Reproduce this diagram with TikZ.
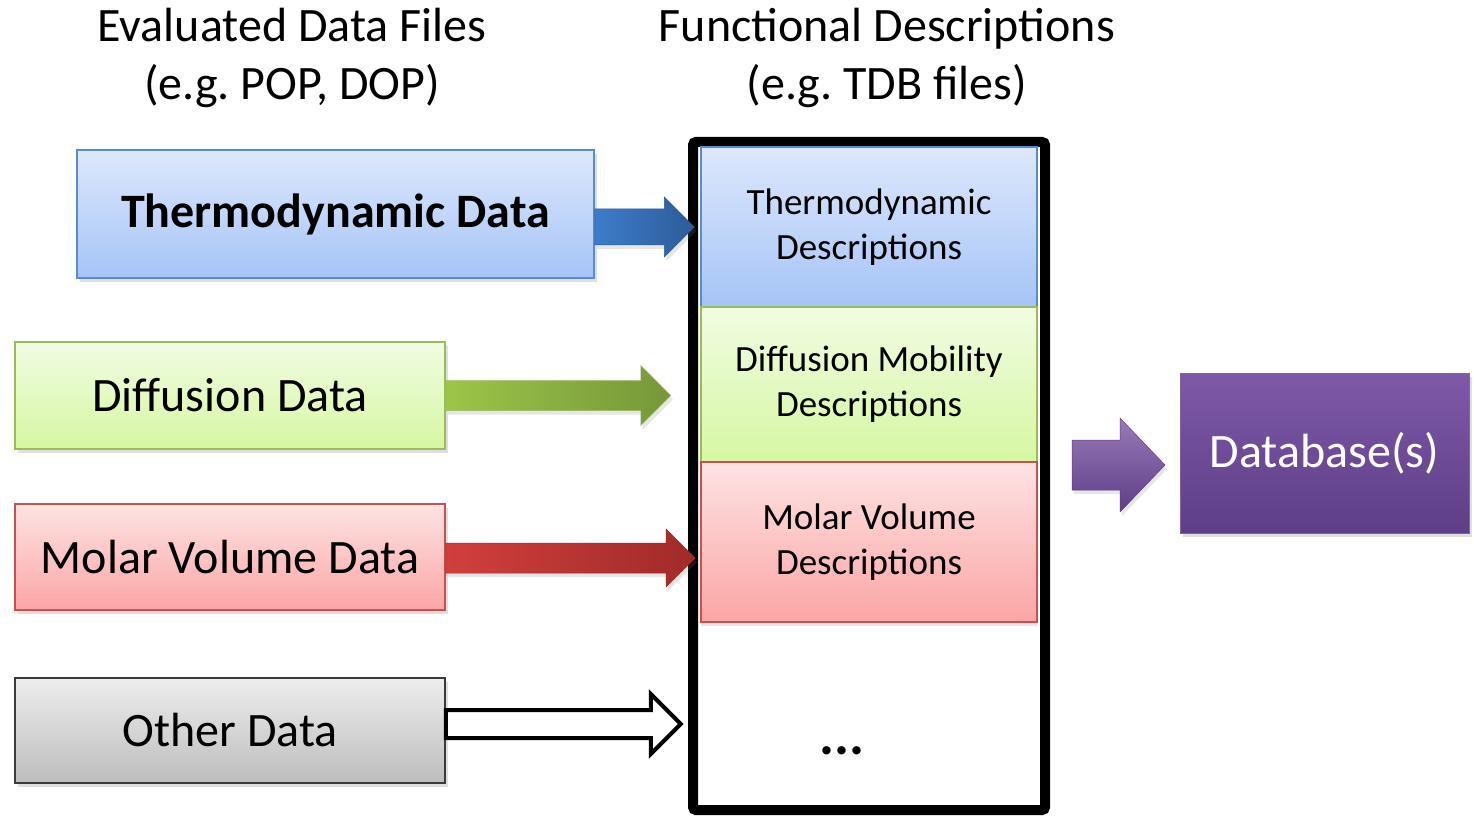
\documentclass[tikz,border=0pt]{standalone}
\usepackage{fontspec}
\setmainfont{Carlito}
\frenchspacing
\usetikzlibrary{calc,shadows}
\definecolor{bluetop}{HTML}{DDE8FC}
\definecolor{bluebot}{HTML}{A5C4F7}
\definecolor{blueedge}{HTML}{5A8AD0}
\definecolor{greentop}{HTML}{F1FCE2}
\definecolor{greenbot}{HTML}{D6F7A2}
\definecolor{greenedge}{HTML}{9BBB59}
\definecolor{redtop}{HTML}{FDE3E3}
\definecolor{redbot}{HTML}{FCA5A5}
\definecolor{rededge}{HTML}{C9504D}
\definecolor{greytop}{HTML}{EDEDED}
\definecolor{greybot}{HTML}{BDBDBD}
\definecolor{greyedge}{HTML}{3A3A3A}
\definecolor{purptop}{HTML}{7E59A8}
\definecolor{purpbot}{HTML}{5E3E86}
\definecolor{barL}{HTML}{3D7CCB}
\definecolor{barR}{HTML}{2D5C99}
\definecolor{garL}{HTML}{9CC548}
\definecolor{garR}{HTML}{76973A}
\definecolor{rarL}{HTML}{D13F3C}
\definecolor{rarR}{HTML}{A02B29}
\newcommand\blockarrow[6]{%
  \path[#6] ($(#1)+(0,#3)$) -- ($(#2)+(-#5,#3)$) -- ($(#2)+(-#5,#4)$) -- (#2)
    -- ($(#2)+(-#5,-#4)$) -- ($(#2)+(-#5,-#3)$) -- ($(#1)+(0,-#3)$) -- cycle;}
\begin{document}
\begin{tikzpicture}[x=1pt,y=-1pt,
  title/.style={align=center,font=\fontsize{48}{58}\selectfont},
  srcbox/.style={draw,line width=1.5pt,inner sep=0pt,font=\fontsize{48}{56}\selectfont,
     drop shadow={shadow xshift=3pt,shadow yshift=-4pt,opacity=0.25}},
  descbox/.style={draw,line width=1.5pt,inner sep=0pt,align=center,
     minimum width=336pt,font=\fontsize{37}{45}\selectfont,
     drop shadow={shadow xshift=0pt,shadow yshift=-4pt,opacity=0.2}},
  arrowshadow/.style={drop shadow={shadow xshift=2pt,shadow yshift=-4pt,opacity=0.2}}]
\useasboundingbox (0,0) rectangle (1474,818);

% titles
\node[title] (t1) at (292,58) {Evaluated Data Files\\(e.g. POP, DOP)};
\node[title] (t2) at (887,58) {Functional Descriptions\\(e.g. TDB files)};

% frame
\node[draw,line width=10pt,rounded corners=3pt,minimum width=352pt,minimum height=668pt,inner sep=0pt]
  (frame) at (869,476) {};

% source boxes
\node[srcbox,draw=blueedge,top color=bluetop,bottom color=bluebot,
  minimum width=517pt,minimum height=128pt,font=\fontsize{48}{56}\selectfont\bfseries]
  (thermo) at (335.5,214) {Thermodynamic Data};
\node[srcbox,draw=greenedge,top color=greentop,bottom color=greenbot,
  minimum width=430pt,minimum height=107pt] (diff) at (230,395.5) {Diffusion Data};
\node[srcbox,draw=rededge,top color=redtop,bottom color=redbot,
  minimum width=430pt,minimum height=106pt] (molar) at (230,557) {Molar Volume Data};
\node[srcbox,draw=greyedge,top color=greytop,bottom color=greybot,
  minimum width=430pt,minimum height=105pt] (other) at (230,730.5) {Other Data};

% description boxes
\node[descbox,draw=blueedge,top color=bluetop,bottom color=bluebot,minimum height=160pt]
  (tdesc) at (869,227) {Thermodynamic\\Descriptions};
\node[descbox,draw=greenedge,top color=greentop,bottom color=greenbot,minimum height=155pt]
  (ddesc) at (869,384.5) {Diffusion Mobility\\Descriptions};
\node[descbox,draw=rededge,top color=redtop,bottom color=redbot,minimum height=160pt]
  (mdesc) at (869,542) {Molar Volume\\Descriptions};
\node[font=\fontsize{56}{60}\selectfont\bfseries] (dots) at (842,751) {...};

% database
\node[draw=purpbot!80!white,line width=1pt,top color=purptop,bottom color=purpbot,text=white,
  minimum width=289pt,minimum height=160pt,inner sep=0pt,font=\fontsize{48}{56}\selectfont,
  drop shadow={shadow xshift=3pt,shadow yshift=-4pt,opacity=0.25}]
  (db) at (1324.5,453) {Database(s)};

% arrows
\coordinate (bs) at (thermo.east |- tdesc.west);
\coordinate (bt) at ($(tdesc.west)+(-6,0)$);
\blockarrow{bs}{bt}{18}{30}{30}{left color=barL,right color=barR,draw=barR,line width=0.5pt,arrowshadow}
\coordinate (gt) at ($(diff.east)+(225,0)$);
\blockarrow{diff.east}{gt}{15}{30}{30}{left color=garL,right color=garR,draw=greenedge,line width=0.5pt,arrowshadow}
\coordinate (rt) at ($(molar.east -| frame.west)+(7,1)$);
\coordinate (rs) at ($(molar.east)+(0,1)$);
\blockarrow{rs}{rt}{15}{29}{29}{left color=rarL,right color=rarR,draw=rarR,line width=0.5pt,arrowshadow}
\coordinate (os) at ($(other.east)+(0,-6.5)$);
\coordinate (ot) at ($(os)+(235,0)$);
\blockarrow{os}{ot}{14}{30}{30}{fill=white,draw=black,line width=4pt,line join=miter}
\coordinate (ps) at ($(frame.east)+(22,-11)$);
\coordinate (pt) at ($(ps)+(93,0)$);
\blockarrow{ps}{pt}{25}{47}{45}{top color=purptop!80!white,bottom color=purpbot,draw=purpbot,line width=0.5pt,arrowshadow}
\end{tikzpicture}
\end{document}
